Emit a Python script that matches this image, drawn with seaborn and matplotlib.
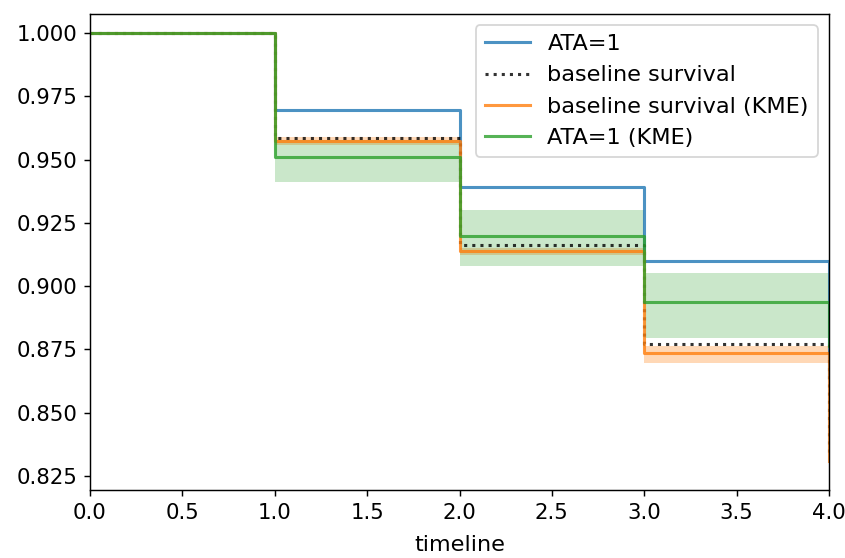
import numpy as np
import pandas as pd
import matplotlib
matplotlib.use("Agg")
import matplotlib.pyplot as plt
import seaborn as sns

# Event times
timeline = [0.0, 1.0, 2.0, 3.0, 4.0]

# Cox model: predicted survival for ATA=1 and the baseline survival
ata1_cox = [1.000, 0.9695, 0.9390, 0.9100, 0.8640]
baseline_cox = [1.000, 0.9584, 0.9163, 0.8771, 0.8330]

# Kaplan-Meier estimates with confidence bands
baseline_km = [1.000, 0.9573, 0.9139, 0.8735, 0.8310]
baseline_km_upper = [1.000, 0.9588, 0.9152, 0.8765, 0.8390]
baseline_km_lower = [1.000, 0.9558, 0.9122, 0.8696, 0.8230]

ata1_km = [1.000, 0.9511, 0.9197, 0.8938, 0.8765]
ata1_km_upper = [1.000, 0.9577, 0.9300, 0.9051, 0.8900]
ata1_km_lower = [1.000, 0.9413, 0.9080, 0.8794, 0.8610]

dpi = 130
fig = plt.figure(figsize=(845 / dpi, 558 / dpi), dpi=dpi)
ax = fig.add_axes([90 / 845, 68 / 558, 739 / 845, 476 / 558])

c_blue, c_orange, c_green = sns.color_palette("tab10")[:3]
lw = 1.7
fs = 12.4

sns.lineplot(x=timeline, y=ata1_cox, ax=ax, color=c_blue, lw=lw, alpha=0.8,
             drawstyle="steps-post", estimator=None, label="ATA=1")
sns.lineplot(x=timeline, y=baseline_cox, ax=ax, color="k", lw=lw, alpha=0.8,
             linestyle=":", drawstyle="steps-post", estimator=None,
             label="baseline survival")

sns.lineplot(x=timeline, y=baseline_km, ax=ax, color=c_orange, lw=lw, alpha=0.8,
             drawstyle="steps-post", estimator=None,
             label="baseline survival (KME)")
ax.fill_between(timeline, baseline_km_lower, baseline_km_upper, step="post",
                color=c_orange, alpha=0.3, lw=0)

sns.lineplot(x=timeline, y=ata1_km, ax=ax, color=c_green, lw=lw, alpha=0.8,
             drawstyle="steps-post", estimator=None, label="ATA=1 (KME)")
ax.fill_between(timeline, ata1_km_lower, ata1_km_upper, step="post",
                color=c_green, alpha=0.25, lw=0)

ax.set_xlim(0, 4)
ax.set_ylim(0.8195, 1.0075)
ax.set_xticks(np.arange(0, 4.01, 0.5))
ax.set_yticks([0.825, 0.85, 0.875, 0.9, 0.925, 0.95, 0.975, 1.0])
ax.yaxis.set_major_formatter(matplotlib.ticker.FormatStrFormatter("%.3f"))
ax.xaxis.set_major_formatter(matplotlib.ticker.FormatStrFormatter("%.1f"))
ax.set_xlabel("timeline", fontsize=fs, labelpad=7)
ax.set_ylabel("")
ax.tick_params(labelsize=11.8)
ax.legend(loc="upper right", fontsize=fs)

fig.savefig("out.png", dpi=dpi)
